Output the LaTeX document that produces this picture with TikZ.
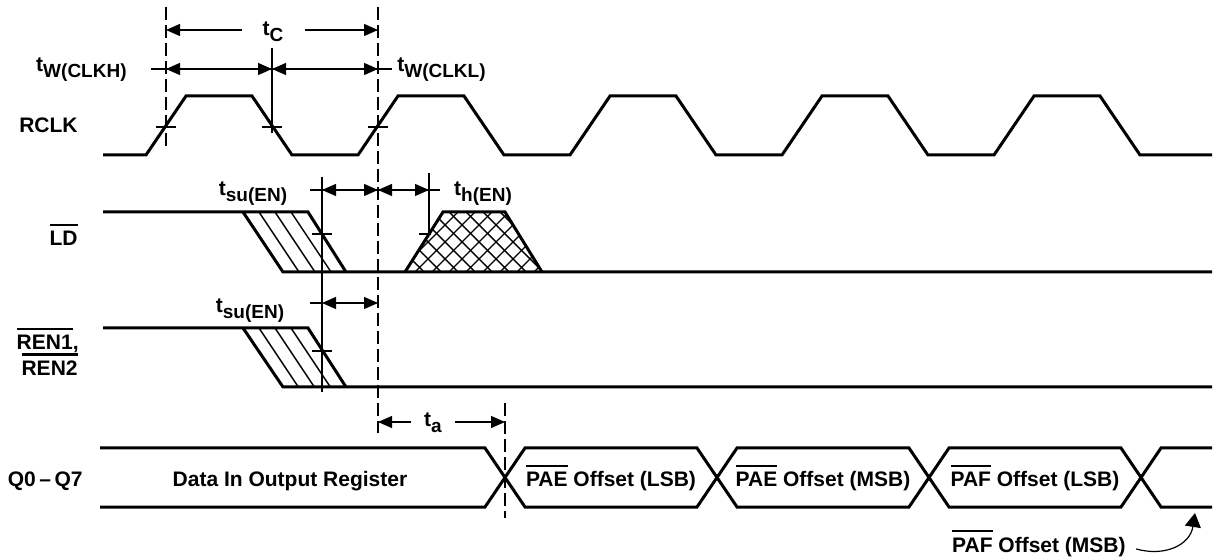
\documentclass[tikz,border=0pt]{standalone}
\usepackage{fontspec}
\setmainfont{Liberation Sans}
\usetikzlibrary{arrows.meta}
\newcommand{\tsub}[1]{t\raisebox{-3pt}{\fontsize{9.5}{10}\selectfont #1}}
\newcommand{\barred}[1]{\setbox0\hbox{#1}\rlap{\rule[\dimexpr\ht0+2.8pt\relax]{\wd0}{1.2pt}}\box0\relax}

\begin{document}
\begin{tikzpicture}[x=0.5pt,y=-0.5pt,
  sig/.style={line width=1.5pt,line join=miter},
  thinl/.style={line width=0.6pt},
  dashl/.style={line width=0.6pt,dash pattern=on 6.5pt off 2.5pt},
  dimarr/.style={thinl,{Triangle[length=7pt,width=6pt]}-{Triangle[length=7pt,width=6pt]}},
  onearr/.style={thinl,-{Triangle[length=7pt,width=6pt]}},
  hatch/.style={line width=0.7pt},
  lbl/.style={font=\fontsize{10.5}{12}\selectfont\bfseries,inner sep=0pt}]
  \useasboundingbox (0,0) rectangle (1219,560);
  \coordinate (r1) at (166,127);
  \coordinate (f1) at (272,127);
  \coordinate (r2) at (378,127);
  \coordinate (ldf) at (322,234);
  \coordinate (ldr) at (429,234);
  \coordinate (renf) at (322,351);
  \coordinate (qx) at (505,478);
  \coordinate (tcrow) at (0,30);
  \coordinate (twrow) at (0,69);
  \coordinate (ldrow) at (0,190);
  \coordinate (renrow) at (0,303);
  \coordinate (tarow) at (0,422);
  \draw[dashl] (r1 |- 0,7) -- (r1 |- 0,148);
  \draw[dashl] (r2 |- 0,7) -- (r2 |- 0,433);
  \draw[dashl] (qx |- 0,403) -- (qx |- 0,518);
  \draw[thinl] (f1 |- 0,48) -- (f1 |- 0,133);
  \draw[thinl] (ldf |- 0,177) -- (ldf |- 0,392);
  \draw[thinl] (ldr |- 0,173) -- (ldr);
  \foreach \mk in {r1,f1,r2,ldf,renf} \draw[thinl] ([xshift=-5pt]\mk) -- ([xshift=5pt]\mk);
  \draw[thinl] ([xshift=-5pt]ldr) -- ([xshift=1pt]ldr);
  \draw[onearr] (242,30) -- (r1 |- tcrow);
  \draw[onearr] (305,30) -- (r2 |- tcrow);
  \draw[thinl] (151,69) -- (392,69);
  \draw[dimarr] (r1 |- twrow) -- (f1 |- twrow);
  \draw[dimarr] (f1 |- twrow) -- (r2 |- twrow);
  \draw[thinl] (310,190) -- (440,190);
  \draw[dimarr] (ldf |- ldrow) -- (r2 |- ldrow);
  \draw[dimarr] (r2 |- ldrow) -- (ldr |- ldrow);
  \draw[thinl] (310,303) -- (322,303);
  \draw[dimarr] (renf |- renrow) -- (r2 |- renrow);
  \draw[onearr] (411,422) -- (r2 |- tarow);
  \draw[onearr] (455,422) -- (qx |- tarow);
  \draw[sig] (103,155) foreach \sh in {0,212,424,636,848} { -- (146+\sh,155) -- (186+\sh,96) -- (252+\sh,96) -- (292+\sh,155) } -- (1212,155);
  \begin{scope}
    \clip (243,212) -- (308,212) -- (346,272) -- (283,272) -- cycle;
    \foreach \d in {16,32,48} \draw[hatch] (235+\d,200) -- (291+\d,284);
  \end{scope}
  \draw[sig] (103,212) -- (308,212) -- (346,272);
  \draw[sig] (243,212) -- (283,272) -- (1212,272);
  \begin{scope}
    \clip (405,272) -- (443,212) -- (505,212) -- (542,272) -- cycle;
    \foreach \k in {0,...,12} {
      \draw[hatch] (347+17*\k,272) -- ++(60,-60);
      \draw[hatch] (347+17*\k,212) -- ++(60,60);
    }
  \end{scope}
  \draw[sig] (405,272) -- (443,212) -- (505,212) -- (542,272);
  \begin{scope}
    \clip (243,328) -- (308,328) -- (346,387) -- (283,387) -- cycle;
    \foreach \d in {16,32,48} \draw[hatch] (235+\d,316) -- (291+\d,400);
  \end{scope}
  \draw[sig] (103,328) -- (308,328) -- (346,387);
  \draw[sig] (243,328) -- (283,387) -- (1212,387);
  \draw[sig] (100,448) -- (485,448) -- (525,507) -- (697,507) -- (737,448) -- (909,448) -- (949,507) -- (1121,507) -- (1161,448) -- (1212,448);
  \draw[sig] (100,507) -- (485,507) -- (525,448) -- (697,448) -- (737,507) -- (909,507) -- (949,448) -- (1121,448) -- (1161,507) -- (1212,507);
  \node[lbl,anchor=base east] (rclk) at (78,133) {RCLK};
  \node[lbl,anchor=base east] (ld) at (78,246) {\barred{LD}};
  \node[lbl,anchor=base east] (ren1) at (79,350) {\barred{REN1},};
  \node[lbl,anchor=base east] (ren2) at (78,376) {\barred{REN2}};
  \node[lbl,anchor=base east] (q) at (83,487) {Q0\,--\,Q7};
  \node[lbl,anchor=base] (tc) at (273,36) {\tsub{C}};
  \node[lbl,anchor=base east] (twh) at (127,72) {\tsub{W(CLKH)}};
  \node[lbl,anchor=base west] (twl) at (397,72) {\tsub{W(CLKL)}};
  \node[lbl,anchor=base] (tsu1) at (253,196) {\tsub{su(EN)}};
  \node[lbl,anchor=base] (th) at (483,196) {\tsub{h(EN)}};
  \node[lbl,anchor=base] (tsu2) at (250,313) {\tsub{su(EN)}};
  \node[lbl,anchor=base] (ta) at (433,427) {\tsub{a}};
  \node[lbl,anchor=base] (d0) at (290,487) {Data In Output Register};
  \node[lbl,anchor=base] (d1) at (611,487) {\barred{PAE} Offset (LSB)};
  \node[lbl,anchor=base] (d2) at (823,487) {\barred{PAE} Offset (MSB)};
  \node[lbl,anchor=base] (d3) at (1035,487) {\barred{PAF} Offset (LSB)};
  \node[lbl,anchor=base east] (d4) at (1126,552) {\barred{PAF} Offset (MSB)};
  \coordinate (d4tip) at (1195,513);
  \draw[thinl,-{Triangle[length=7pt,width=8pt]}] ([shift={(5pt,-3pt)}]d4.east) .. controls (1165,557) and (1190,545) .. (d4tip);
\end{tikzpicture}
\end{document}
